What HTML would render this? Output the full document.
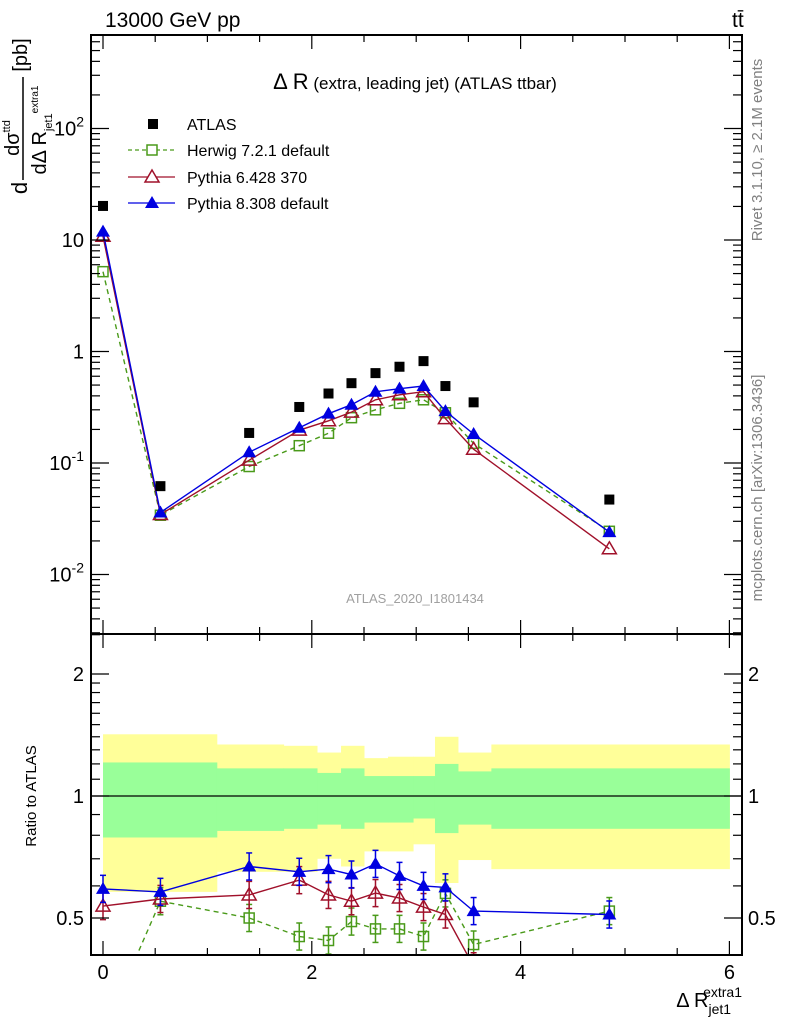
<!DOCTYPE html>
<html><head><meta charset="utf-8"><style>
body{margin:0;background:#fff}
svg{display:block;font-family:"Liberation Sans",sans-serif}
</style></head><body>
<svg id="c" width="786" height="1024" viewBox="0 0 786 1024" xmlns="http://www.w3.org/2000/svg">
<rect width="786" height="1024" fill="#fff"/>
<text x="105" y="27" font-size="21">13000 GeV pp</text>
<text x="732" y="27" font-size="21">tt̄</text>
<text x="415" y="89" font-size="17" text-anchor="middle"><tspan font-size="22">Δ R</tspan> (extra, leading jet) (ATLAS ttbar)</text>
<text x="415" y="603" font-size="13" fill="#a0a0a0" text-anchor="middle">ATLAS_2020_I1801434</text>
<text transform="translate(762,150) rotate(-90)" font-size="15" fill="#808080" text-anchor="middle">Rivet 3.1.10, ≥ 2.1M events</text>
<text transform="translate(762,488) rotate(-90)" font-size="15" fill="#808080" text-anchor="middle">mcplots.cern.ch [arXiv:1306.3436]</text>
<g>
<text transform="translate(27,188) rotate(-90)" font-size="22" text-anchor="middle">d</text>
<text transform="translate(19,138) rotate(-90)" font-size="20" text-anchor="middle">dσ<tspan font-size="11" dy="-9">ttd</tspan></text>
<line x1="23" y1="77" x2="23" y2="180" stroke="#000" stroke-width="1.5"/>
<text transform="translate(46,130) rotate(-90)" font-size="20" text-anchor="middle">dΔ R<tspan font-size="11" dy="6">jet1</tspan><tspan font-size="10" dy="-14">extra1</tspan></text>
<text transform="translate(27,55) rotate(-90)" font-size="20" text-anchor="middle">[pb]</text>
</g>
<text transform="translate(36,796) rotate(-90)" font-size="15" text-anchor="middle">Ratio to ATLAS</text>
<text x="742" y="1007" font-size="20" text-anchor="end">Δ R<tspan font-size="14" dy="7">jet1</tspan><tspan font-size="14" dx="-28" dy="-17">extra1</tspan></text>
<g>
<rect x="148" y="119" width="10" height="10" fill="#000"/>
<text x="187" y="130" font-size="16">ATLAS</text>
<line x1="128" y1="150" x2="175" y2="150" stroke="#4a9a1a" stroke-width="1.3" stroke-dasharray="4,3"/>
<rect x="147" y="145" width="10" height="10" fill="#fff" stroke="#4a9a1a" stroke-width="1.5"/>
<text x="187" y="156" font-size="16">Herwig 7.2.1 default</text>
<line x1="128" y1="177" x2="175" y2="177" stroke="#a0102a" stroke-width="1.3"/>
<path d="M152,170 L159,182 L145,182 Z" fill="#fff" stroke="#a0102a" stroke-width="1.5"/>
<text x="187" y="183" font-size="16">Pythia 6.428 370</text>
<line x1="128" y1="203" x2="175" y2="203" stroke="#0000e0" stroke-width="1.3"/>
<path d="M152,196 L159,208 L145,208 Z" fill="#0000e0"/>
<text x="187" y="209" font-size="16">Pythia 8.308 default</text>
</g>
<g id="plot"></g>
</svg>
<script>
const xPos=[0.0,0.55,1.4,1.88,2.16,2.38,2.61,2.84,3.07,3.28,3.55,4.85];
const atlasVals=[20.2,0.062,0.186,0.318,0.42,0.52,0.64,0.73,0.82,0.49,0.35,0.047];
const herwigVals=[5.2,0.034,0.093,0.143,0.185,0.255,0.30,0.343,0.369,0.282,0.15,0.0244];
const py6Vals=[10.8,0.0345,0.106,0.197,0.239,0.286,0.369,0.409,0.436,0.25,0.133,0.017];
const py8Vals=[11.9,0.036,0.125,0.207,0.277,0.333,0.435,0.464,0.49,0.292,0.182,0.024];
const herwigRatio=[0.26,0.55,0.50,0.45,0.44,0.49,0.47,0.47,0.45,0.575,0.43,0.52];
const py6Ratio=[0.535,0.557,0.57,0.62,0.57,0.55,0.576,0.56,0.532,0.51,0.38,0.36];
const py8Ratio=[0.59,0.58,0.67,0.65,0.66,0.64,0.68,0.635,0.60,0.595,0.52,0.51];
const binEdges=[0,1.09,1.73,2.05,2.28,2.5,2.73,2.97,3.18,3.4,3.72,6];
const yellowHi=[1.42,1.34,1.33,1.28,1.33,1.24,1.25,1.25,1.40,1.28,1.34];
const yellowLo=[0.58,0.65,0.65,0.70,0.67,0.73,0.73,0.76,0.61,0.695,0.66];
const greenHi=[1.21,1.17,1.17,1.14,1.17,1.12,1.12,1.12,1.20,1.15,1.17];
const greenLo=[0.79,0.82,0.83,0.85,0.83,0.86,0.86,0.88,0.81,0.85,0.83];
const xTicks=[0,2,4,6];
const mainTickLabels=["10^-2","10^-1","1","10","10^2"];
const ratioTickLabels=[0.5,1,2];

const NS="http://www.w3.org/2000/svg";
const g=document.getElementById('plot');
const L=91,R=742,T=35,MB=634,RB=955;
const X=v=>103+v*104.4;
const Y=v=>240-(Math.log10(v)-1)*111.5;
const YR=v=>796-Math.log2(v)*122;
function mk(tag,attrs,name,parent){
  const el=document.createElementNS(NS,tag);
  for(const k in attrs)el.setAttribute(k,attrs[k]);
  
  
  (parent||g).appendChild(el);return el;
}
const defs=mk('defs',{},'defs');
const c1=mk('clipPath',{id:'cm'},'main-clip',defs);mk('rect',{x:L,y:T,width:R-L,height:MB-T},'main-clip-rect',c1);
const c2=mk('clipPath',{id:'cr'},'ratio-clip',defs);mk('rect',{x:L,y:MB,width:R-L,height:RB-MB},'ratio-clip-rect',c2);
const bands=mk('g',{'clip-path':'url(#cr)'},'ratio-bands');
for(let i=0;i<yellowHi.length;i++){
  mk('rect',{x:X(binEdges[i]),y:YR(yellowHi[i]),width:X(binEdges[i+1])-X(binEdges[i])+0.5,height:YR(yellowLo[i])-YR(yellowHi[i]),fill:'#ffff99'},'yellow-band-'+i,bands);
}
for(let i=0;i<greenHi.length;i++){
  mk('rect',{x:X(binEdges[i]),y:YR(greenHi[i]),width:X(binEdges[i+1])-X(binEdges[i])+0.5,height:YR(greenLo[i])-YR(greenHi[i]),fill:'#99ff99'},'green-band-'+i,bands);
}
mk('line',{x1:L,x2:R,y1:YR(1),y2:YR(1),stroke:'#000','stroke-width':1.2},'ratio-unity-line');
function series(vals,fy,color,dash,marker,name,clip){
  const grp=mk('g',{'clip-path':clip},name);
  const pts=vals.map((v,i)=>X(xPos[i]).toFixed(1)+','+fy(v).toFixed(1)).join(' ');
  if(color!=='#000'){
    const pl=mk('polyline',{points:pts,fill:'none',stroke:color,'stroke-width':1.4},name+'-line',grp);
    if(dash)pl.setAttribute('stroke-dasharray','5,4');
  }
  vals.forEach((v,i)=>{
    const x=X(xPos[i]),y=fy(v);
    if(fy===YR){
      const y1=fy(v*1.08),y2=fy(v/1.08);
      mk('line',{x1:x,x2:x,y1:y1,y2:y2,stroke:color,'stroke-width':1.5},name+'-errbar',grp);
      mk('line',{x1:x-3,x2:x+3,y1:y1,y2:y1,stroke:color,'stroke-width':1.5},name+'-errcap',grp);
      mk('line',{x1:x-3,x2:x+3,y1:y2,y2:y2,stroke:color,'stroke-width':1.5},name+'-errcap',grp);
    }
    if(marker==='fsq')mk('rect',{x:x-5,y:y-5,width:10,height:10,fill:color},name+'-point',grp);
    else if(marker==='osq')mk('rect',{x:x-5,y:y-5,width:10,height:10,fill:'#fff','fill-opacity':0,stroke:color,'stroke-width':1.5},name+'-point',grp);
    else if(marker==='otri')mk('path',{d:`M${x},${y-7}L${x+7},${y+5}L${x-7},${y+5}Z`,fill:'none',stroke:color,'stroke-width':1.5},name+'-point',grp);
    else mk('path',{d:`M${x},${y-7}L${x+7},${y+5}L${x-7},${y+5}Z`,fill:color},name+'-point',grp);
  });
}
series(herwigVals,Y,'#4a9a1a',true,'osq','herwig-main','url(#cm)');
series(py6Vals,Y,'#a0102a',false,'otri','pythia6-main','url(#cm)');
series(py8Vals,Y,'#0000e0',false,'ftri','pythia8-main','url(#cm)');
series(atlasVals,Y,'#000',false,'fsq','atlas-main','url(#cm)');
series(herwigRatio,YR,'#4a9a1a',true,'osq','herwig-ratio','url(#cr)');
series(py6Ratio,YR,'#a0102a',false,'otri','pythia6-ratio','url(#cr)');
series(py8Ratio,YR,'#0000e0',false,'ftri','pythia8-ratio','url(#cr)');
mk('rect',{x:L,y:T,width:R-L,height:MB-T,fill:'none',stroke:'#000','stroke-width':2},'main-frame');
mk('rect',{x:L,y:MB,width:R-L,height:RB-MB,fill:'none',stroke:'#000','stroke-width':2},'ratio-frame');
for(let v=0;v<=6.001;v+=0.5){
  const x=X(v),maj=Math.abs(v-Math.round(v/2)*2)<1e-6,len=maj?14:7;
  [T,MB].forEach(t=>mk('line',{x1:x,x2:x,y1:t,y2:t+len,stroke:'#000','stroke-width':1.2},'x-tick'));
  [MB,RB].forEach(b=>mk('line',{x1:x,x2:x,y1:b,y2:b-len,stroke:'#000','stroke-width':1.2},'x-tick'));
}
xTicks.forEach(v=>{const t=mk('text',{x:X(v),y:979,'font-size':20,'text-anchor':'middle'},'x-tick-label');t.textContent=v;});
for(let e=-3;e<=2;e++){
  for(let m=1;m<=9;m++){
    const v=m*Math.pow(10,e),y=Y(v);
    if(y<T||y>MB)continue;
    const len=m===1?18:9;
    mk('line',{x1:L,x2:L+len,y1:y,y2:y,stroke:'#000','stroke-width':1.2},'y-tick');
    mk('line',{x1:R,x2:R-len,y1:y,y2:y,stroke:'#000','stroke-width':1.2},'y-tick');
  }
}
mainTickLabels.forEach((s,i)=>{
  const e=i-2,y=Y(Math.pow(10,e));
  const t=mk('text',{x:84,y:y+7,'font-size':20,'text-anchor':'end'},'y-tick-label');
  if(s.indexOf('^')>=0){const p=s.split('^');t.textContent=p[0];const sp=mk('tspan',{'font-size':14,dy:-9},'y-tick-exponent',t);sp.textContent=p[1];}
  else t.textContent=s;
});
const rTicks=[0.5,0.6,0.7,0.8,0.9,1,1.1,1.2,1.3,1.4,1.5,1.6,1.7,1.8,1.9,2,2.5];
rTicks.forEach(v=>{
  const y=YR(v),len=(v===0.5||v===1||v===2)?18:9;
  mk('line',{x1:L,x2:L+len,y1:y,y2:y,stroke:'#000','stroke-width':1.2},'ratio-y-tick');
  mk('line',{x1:R,x2:R-len,y1:y,y2:y,stroke:'#000','stroke-width':1.2},'ratio-y-tick');
});
ratioTickLabels.forEach(v=>{
  const t=mk('text',{x:84,y:YR(v)+7,'font-size':20,'text-anchor':'end'},'ratio-tick-label-left');t.textContent=v;
  const t2=mk('text',{x:748,y:YR(v)+7,'font-size':20},'ratio-tick-label-right');t2.textContent=v;
});
</script>
</body></html>
